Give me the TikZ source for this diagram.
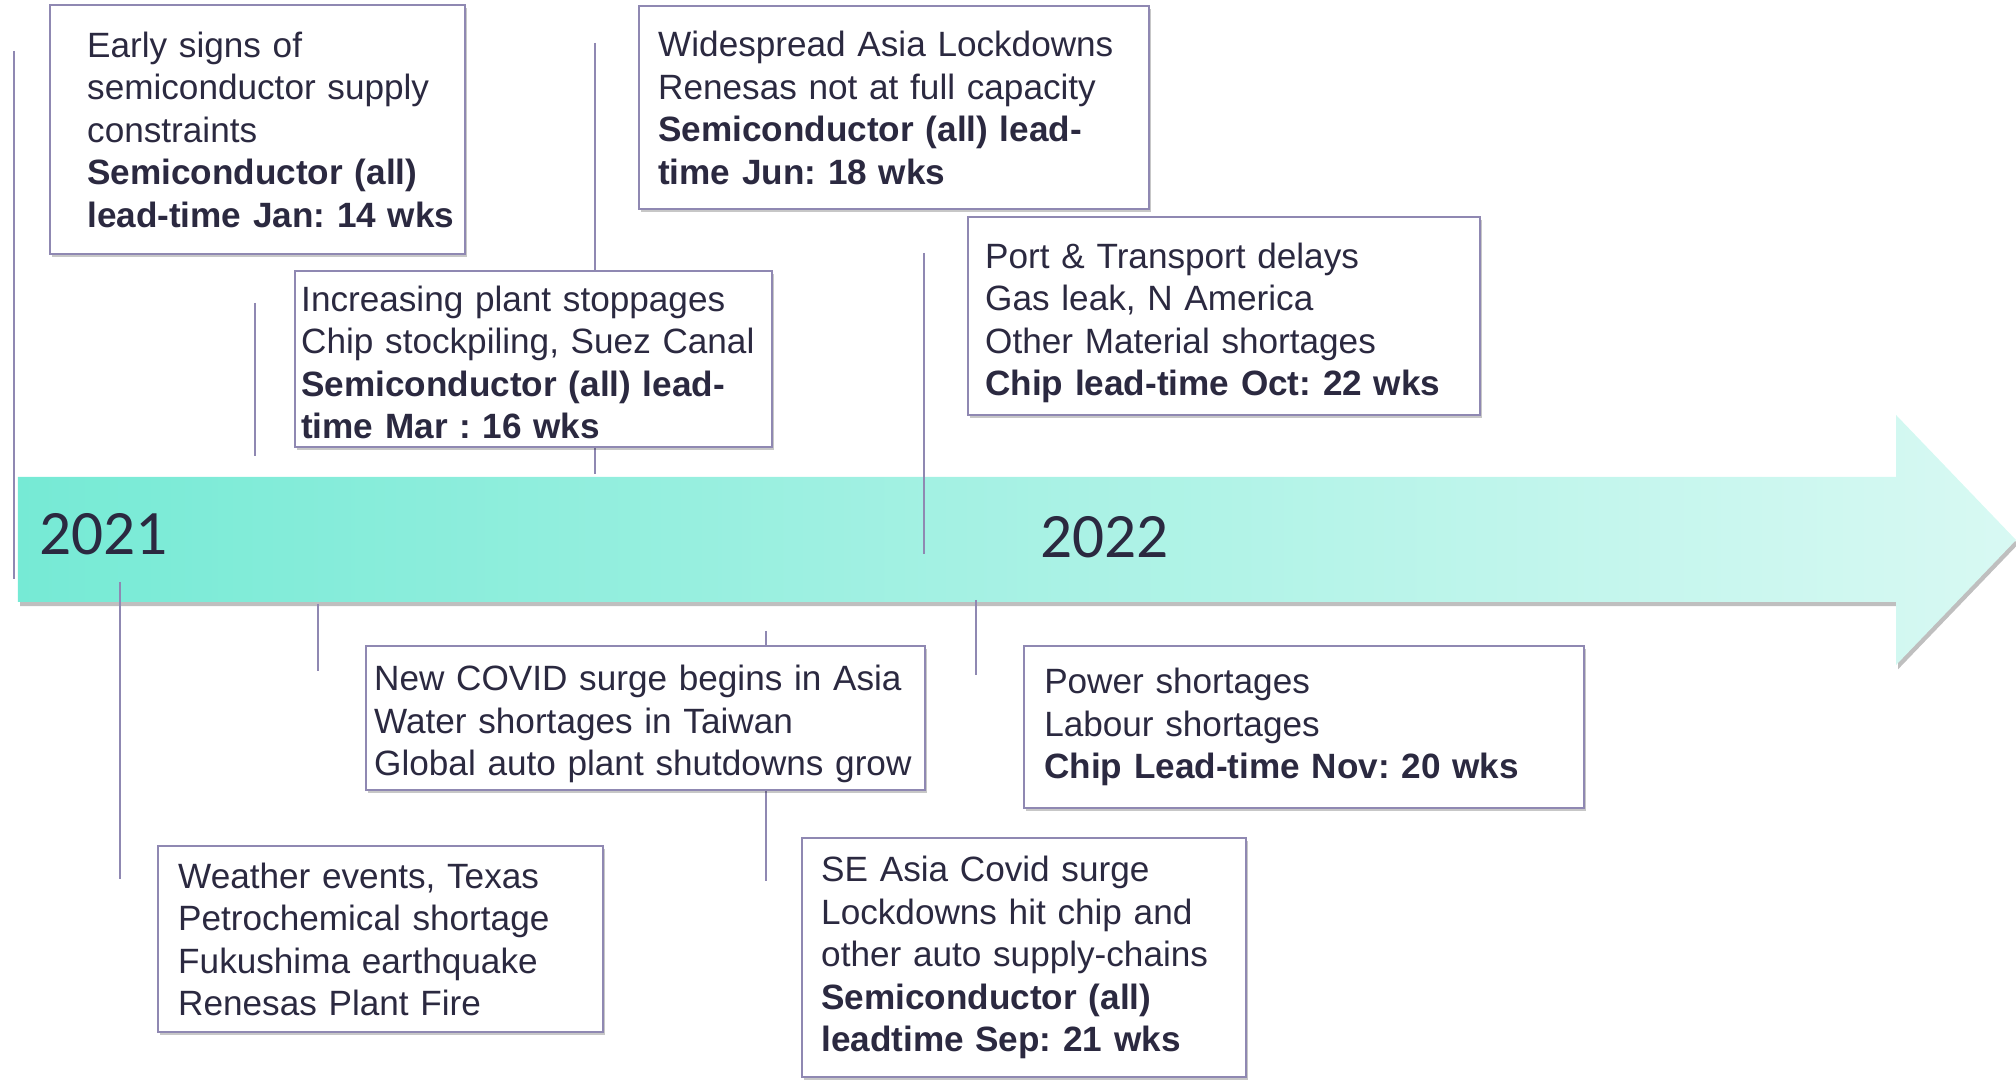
\documentclass[tikz,border=0pt]{standalone}
\usepackage{fontspec}
\setmainfont{Liberation Sans}
\newfontfamily\yearfont{Carlito}
\usetikzlibrary{positioning,shadows}
\definecolor{inkdark}{RGB}{43,41,64}
\definecolor{cardline}{RGB}{143,136,178}
\definecolor{barleft}{RGB}{118,234,213}
\definecolor{barright}{RGB}{216,249,243}
\newcommand{\lowerby}[1]{\rule{0pt}{#1}}
\tikzset{
  card/.style={draw=cardline, line width=0.7pt, fill=white, anchor=north west, align=left, inner ysep=0pt,
    text=inkdark, font=\fontsize{10}{12.1}\selectfont\frenchspacing,
    drop shadow={shadow xshift=0.5pt, shadow yshift=-0.9pt, opacity=0.22, fill=black}},
  tick/.style={draw=cardline, line width=0.6pt},
  yearlabel/.style={anchor=west, inner sep=0pt, text=inkdark, font=\yearfont\fontsize{18}{20}\selectfont},
  timebar/.style={left color=barleft, right color=barright,
    drop shadow={shadow xshift=0.6pt, shadow yshift=-1.2pt, opacity=0.25, fill=black}}
}
\begin{document}
\begin{tikzpicture}
  \useasboundingbox (0,0) rectangle (20.16,-10.81);
  \shade[timebar] (0.18,-4.77) -- (18.96,-4.77) -- (18.96,-4.15) -- (20.16,-5.40)
    -- (18.96,-6.65) -- (18.96,-6.02) -- (0.18,-6.02) -- cycle;
  \node[yearlabel] (y2021) at (0.39,-5.34) {2021};
  \node[yearlabel] (y2022) at (10.40,-5.37) {2022};
  \draw[tick] (0.14,-0.51) -- (0.14,-5.79);
  \draw[tick] (2.55,-3.03) -- (2.55,-4.56);
  \draw[tick] (5.95,-0.43) -- (5.95,-4.74);
  \draw[tick] (9.24,-2.53) -- (9.24,-5.54);
  \draw[tick] (1.20,-5.82) -- (1.20,-8.79);
  \draw[tick] (3.18,-6.04) -- (3.18,-6.71);
  \draw[tick] (7.66,-6.31) -- (7.66,-8.81);
  \draw[tick] (9.76,-6.00) -- (9.76,-6.75);
  \node[card, minimum width=4.15cm, minimum height=2.49cm, inner xsep=0.37cm, text width=3.41cm] (early) at (0.49,-0.04)
    {Early signs of\\ \mbox{semiconductor supply}\\ constraints\\ \textbf{Semiconductor (all)}\\ \mbox{\textbf{lead-time Jan: 14 wks}}};
  \node[card, minimum width=4.77cm, minimum height=1.76cm, inner xsep=0.06cm, text width=4.65cm] (stoppage) at (2.94,-2.70)
    {\lowerby{9pt}Increasing plant stoppages\\ Chip stockpiling, Suez Canal\\ \textbf{Semiconductor (all) lead-}\\ \textbf{time Mar : 16 wks}};
  \node[card, minimum width=5.10cm, minimum height=2.03cm, inner xsep=0.19cm, text width=4.72cm] (lockdown) at (6.38,-0.05)
    {Widespread Asia Lockdowns\\ Renesas not at full capacity\\ \textbf{Semiconductor (all) lead-}\\ \textbf{time Jun: 18 wks}};
  \node[card, minimum width=5.12cm, minimum height=1.98cm, inner xsep=0.17cm, text width=4.78cm] (port) at (9.67,-2.16)
    {\lowerby{11pt}Port \& Transport delays\\ Gas leak, N America\\ Other Material shortages\\ \textbf{Chip lead-time Oct: 22 wks}};
  \node[card, minimum width=5.59cm, minimum height=1.44cm, inner xsep=0.08cm, text width=5.43cm] (covid) at (3.65,-6.45)
    {\lowerby{10.5pt}New COVID surge begins in Asia\\ Water shortages in Taiwan\\ Global auto plant shutdowns grow};
  \node[card, minimum width=5.60cm, minimum height=1.62cm, inner xsep=0.20cm, text width=5.20cm] (power) at (10.23,-6.45)
    {Power shortages\\ Labour shortages\\ \textbf{Chip Lead-time Nov: 20 wks}};
  \node[card, minimum width=4.45cm, minimum height=1.86cm, inner xsep=0.20cm, text width=4.05cm] (weather) at (1.57,-8.45)
    {Weather events, Texas\\ Petrochemical shortage\\ Fukushima earthquake\\ Renesas Plant Fire};
  \node[card, minimum width=4.44cm, minimum height=2.39cm, inner xsep=0.19cm, text width=4.06cm] (surge) at (8.01,-8.37)
    {SE Asia Covid surge\\ Lockdowns hit chip and\\ other auto supply-chains\\ \textbf{Semiconductor (all)}\\ \textbf{leadtime Sep: 21 wks}};
\end{tikzpicture}
\end{document}
